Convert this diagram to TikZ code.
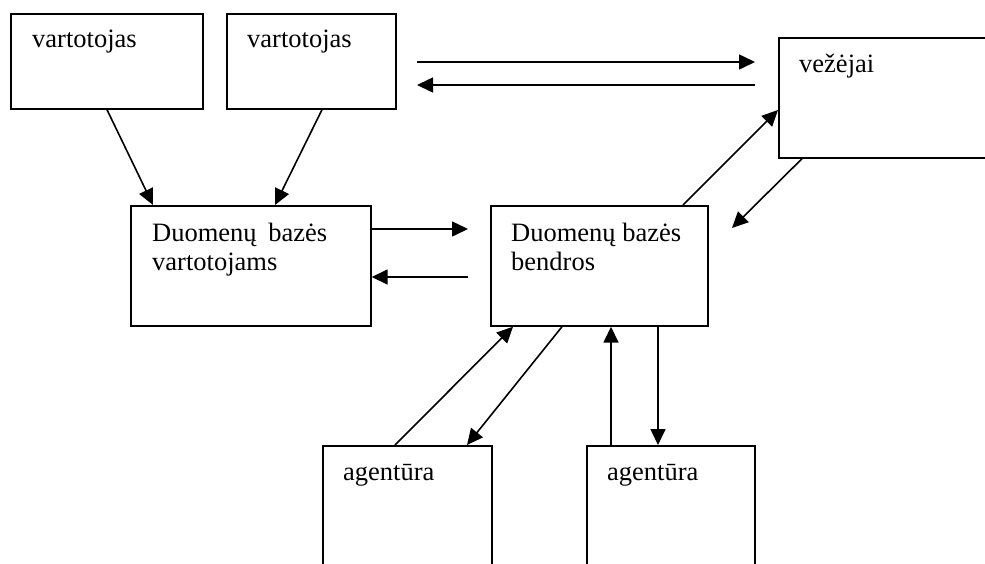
\documentclass[tikz,border=0pt]{standalone}
\usepackage{fontspec}
\setmainfont{Liberation Serif}
\usetikzlibrary{arrows.meta,calc}

\tikzset{
  box/.style={draw, line width=1.7pt, rectangle, inner sep=0pt, anchor=north west},
  txt/.style={anchor=base west, inner sep=0pt, font=\fontsize{26.5}{29}\selectfont},
  arr/.style={line width=1.6pt, -{Triangle[length=16pt,width=15pt]}}
}

\begin{document}
\begin{tikzpicture}[x=1pt, y=-1pt]
  \useasboundingbox (0,0) rectangle (985,563);
  \clip (0,0) rectangle (985,563);
  \fill[white] (0,0) rectangle (985,563);

  % boxes (the right and bottom ones run past the page edge)
  \node[box, minimum width=192pt, minimum height=95pt]  (v1)  at (10,13)   {};
  \node[box, minimum width=169pt, minimum height=95pt]  (v2)  at (226,13)  {};
  \node[box, minimum width=240pt, minimum height=120pt] (vez) at (778,37)  {};
  \node[box, minimum width=240pt, minimum height=120pt] (dbv) at (130,205) {};
  \node[box, minimum width=217pt, minimum height=120pt] (dbb) at (490,205) {};
  \node[box, minimum width=169pt, minimum height=140pt] (ag1) at (322,445) {};
  \node[box, minimum width=168pt, minimum height=140pt] (ag2) at (586,445) {};

  % labels
  \node[txt] (tv1)  at (32,47)   {vartotojas};
  \node[txt] (tv2)  at (247,47)  {vartotojas};
  \node[txt] (tvez) at (799,72)  {vežėjai};
  \node[txt] (tdv1) at (152,241) {Duomenų\hspace{5pt} bazės};
  \node[txt] (tdv2) at (152,270) {vartotojams};
  \node[txt] (tdb1) at (511,241) {Duomenų bazės};
  \node[txt] (tdb2) at (511,270) {bendros};
  \node[txt] (ta1)  at (343,480) {agentūra};
  \node[txt] (ta2)  at (607,480) {agentūra};

  % free ends
  \coordinate (hA) at (417,62);
  \coordinate (hB) at (755,62);
  \coordinate (hC) at (755,85);
  \coordinate (hD) at (417,85);
  \coordinate (mA) at (468,229);
  \coordinate (mB) at (468,277);
  \coordinate (vB) at (732,228);

  % users to user database
  \draw[arr] ($(v1.south west)+(97,0)$) -- ($(dbv.north west)+(23,0)$);
  \draw[arr] ($(v2.south west)+(96,0)$) -- ($(dbv.north west)+(145,0)$);

  % top pair of arrows
  \draw[arr] (hA) -- (hB);
  \draw[arr] (hC) -- (hD);

  % between the two databases
  \draw[arr] (dbv.east |- mA) -- (mA);
  \draw[arr] (mB) -- (dbv.east |- mB);

  % common database and carriers
  \draw[arr] ($(dbb.north west)+(193,0)$) -- ($(vez.north west)+(0,73)$);
  \draw[arr] ($(vez.south west)+(24,0)$) -- (vB);

  % common database and agencies
  \draw[arr] ($(ag1.north west)+(73,0)$) -- ($(dbb.south west)+(23,0)$);
  \draw[arr] ($(dbb.south west)+(72,0)$) -- ($(ag1.north west)+(145,0)$);
  \draw[arr] ($(ag2.north west)+(25,0)$) -- ($(dbb.south west)+(121,0)$);
  \draw[arr] ($(dbb.south west)+(168,0)$) -- ($(ag2.north west)+(72,0)$);
\end{tikzpicture}
\end{document}
